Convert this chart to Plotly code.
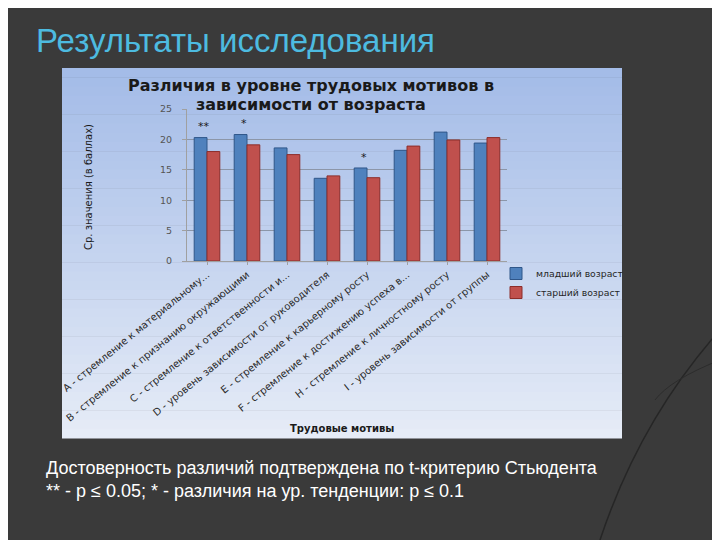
import plotly.graph_objects as go

categories = [
    "A - стремление к материальному...",
    "B - стремление к признанию окружающими",
    "C - стремление к ответственности и...",
    "D - уровень зависимости от руководителя",
    "E - стремление к карьерному росту",
    "F - стремление к достижению успеха в...",
    "H - стремление к личностному росту",
    "I - уровень зависимости от группы",
]
younger = [20.3, 20.8, 18.6, 13.6, 15.3, 18.2, 21.2, 19.4]
older = [18.0, 19.1, 17.5, 14.0, 13.7, 18.9, 19.9, 20.3]
significance = ["**", "*", "", "", "*", "", "", ""]
y_ticks = [0, 5, 10, 15, 20, 25]

# page body has an 8px margin; the figure is sized to fill the rest of the window
OFF = 8
W, H = 720 - OFF, 540 - OFF

def px_x(x):
    return (x - OFF) / W

def px_y(y):
    return 1 - (y - OFF) / H

fig = go.Figure()
fig.add_trace(go.Bar(name="младший возраст", x=categories, y=younger,
                     marker=dict(color="#4f81bd", line=dict(color="#2f5689", width=1))))
fig.add_trace(go.Bar(name="старший возраст", x=categories, y=older,
                     marker=dict(color="#c0504d", line=dict(color="#8c2d2a", width=1))))

shapes = []
# panel gradient
top_c = (164, 188, 232)
bot_c = (230, 236, 247)
n = 40
y0p, y1p = 68, 438
for i in range(n):
    t = i / (n - 1)
    c = tuple(int(top_c[k] + (bot_c[k] - top_c[k]) * t) for k in range(3))
    ya = y0p + (y1p - y0p) * i / n
    yb = y0p + (y1p - y0p) * (i + 1) / n
    shapes.append(dict(type="rect", xref="paper", yref="paper", layer="below",
                       x0=px_x(62), x1=px_x(622), y0=px_y(yb + 0.5), y1=px_y(ya),
                       line=dict(width=0), fillcolor="rgb(%d,%d,%d)" % c))
# decorative slide curves
shapes.append(dict(type="path", xref="paper", yref="paper", layer="below",
                   path="M %f %f Q %f %f %f %f" % (px_x(720), px_y(330), px_x(640), px_y(420), px_x(600), px_y(540)),
                   line=dict(color="#262626", width=1.5)))
shapes.append(dict(type="path", xref="paper", yref="paper", layer="below",
                   path="M %f %f Q %f %f %f %f" % (px_x(720), px_y(360), px_x(670), px_y(380), px_x(655), px_y(400)),
                   line=dict(color="#2c2c2c", width=1)))

title_font = dict(family="DejaVu Sans", size=16, color="#1a1a1a")
annotations = [
    dict(text="Результаты исследования", xref="paper", yref="paper",
         x=px_x(34), y=px_y(40), xanchor="left", yanchor="middle", showarrow=False,
         font=dict(family="Liberation Sans", size=33, color="#4dbbe0")),
    dict(text="<b>Различия в уровне трудовых мотивов в</b>",
         xref="paper", yref="paper", x=px_x(311), y=px_y(86), xanchor="center", yanchor="middle",
         showarrow=False, font=title_font),
    dict(text="<b>зависимости от возраста</b>",
         xref="paper", yref="paper", x=px_x(311), y=px_y(104.5), xanchor="center", yanchor="middle",
         showarrow=False, font=title_font),
    dict(text="Ср. значения (в баллах)", xref="paper", yref="paper", textangle=-90,
         x=px_x(88), y=px_y(187), xanchor="center", yanchor="middle", showarrow=False,
         font=dict(family="DejaVu Sans", size=10, color="#1a1a1a")),
    dict(text="<b>Трудовые мотивы</b>", xref="paper", yref="paper",
         x=px_x(342), y=px_y(428), xanchor="center", yanchor="middle", showarrow=False,
         font=dict(family="DejaVu Sans", size=10, color="#1a1a1a")),
    dict(text="Достоверность различий подтверждена по t-критерию Стьюдента<br>** - p ≤ 0.05; * - различия на ур. тенденции: p ≤ 0.1",
         xref="paper", yref="paper", x=px_x(44), y=px_y(479), xanchor="left", yanchor="middle",
         align="left", showarrow=False,
         font=dict(family="Liberation Sans", size=18, color="#ffffff")),
]
for cat, yv, ov, s in zip(categories, younger, older, significance):
    if s:
        annotations.append(dict(text=s, x=cat, y=max(yv, ov) + 3.2, xref="x", yref="y",
                                yanchor="top", showarrow=False, xshift=-3,
                                font=dict(family="DejaVu Sans", size=11, color="#1a1a1a")))

fig.update_layout(
    width=W, height=H,
    margin=dict(l=0, r=0, t=0, b=0, autoexpand=False),
    paper_bgcolor="#3a3a3a",
    plot_bgcolor="rgba(0,0,0,0)",
    barmode="group", bargap=0.36, bargroupgap=0.0,
    shapes=shapes, annotations=annotations,
    showlegend=True,
    legend=dict(x=px_x(496), y=px_y(259), xanchor="left", yanchor="top",
                bgcolor="rgba(0,0,0,0)", font=dict(family="DejaVu Sans", size=9.3, color="#262626"),
                itemwidth=30, tracegroupgap=4),
    xaxis=dict(domain=[px_x(187), px_x(507)], tickangle=-39, showline=True, automargin=False,
               linecolor="#a0a0a0", ticks="outside", ticklen=3, tickcolor="#a0a0a0",
               tickfont=dict(family="DejaVu Sans", size=10, color="#2a2a2a")),
    yaxis=dict(domain=[px_y(261), px_y(109)], range=[0, 25], tickvals=y_ticks, automargin=False,
               showgrid=True, gridcolor="#8c96a8", gridwidth=1, showline=True,
               linecolor="#a0a0a0", ticks="outside", ticklen=4, tickcolor="#a0a0a0",
               zeroline=False, ticklabelstandoff=8,
               tickfont=dict(family="DejaVu Sans", size=9.5, color="#555555")),
)

fig.write_html("out.html")
